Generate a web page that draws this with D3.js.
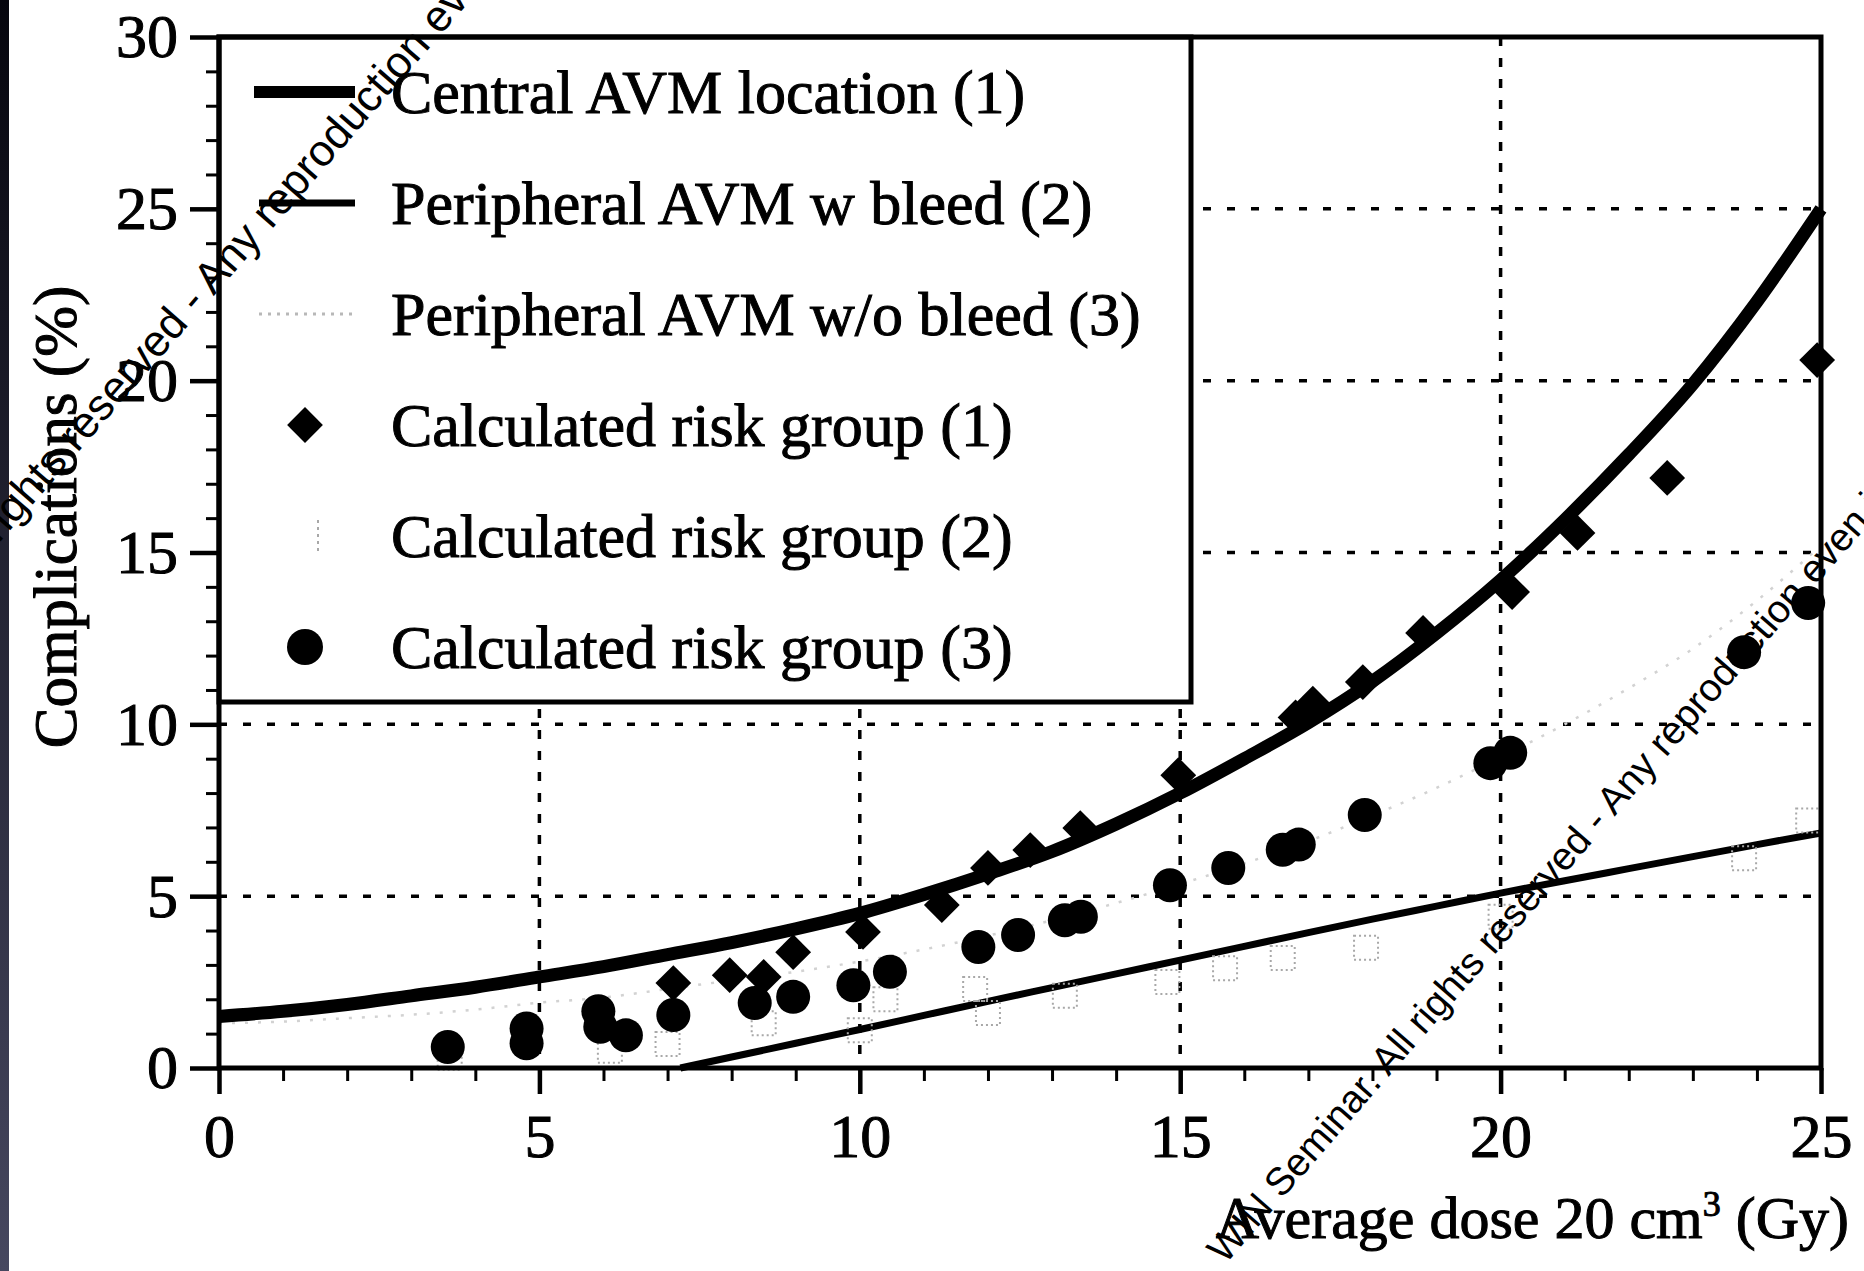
<!DOCTYPE html>
<html>
<head>
<meta charset="utf-8">
<script src="https://cdn.jsdelivr.net/npm/d3@7"></script>
<style>
  html, body { margin: 0; padding: 0; background: #fff; }
  svg { display: block; }
</style>
</head>
<body>
<svg id="chart" width="1864" height="1271"></svg>
<script>
// axes
const xTicks = [0, 5, 10, 15, 20, 25];
const yTicks = [0, 5, 10, 15, 20, 25, 30];

// fitted curves (dose in Gy, complications in %)
const curveDose = [0, 1, 2, 3, 4, 5, 6, 7, 8, 9, 10, 11, 12, 13, 14, 15, 16, 17, 18, 19, 20, 21, 22, 23, 24, 25];
const centralAVM = [1.5, 1.65, 1.85, 2.1, 2.35, 2.65, 2.95, 3.3, 3.65, 4.05, 4.5, 5.05, 5.65, 6.3, 7.1, 8.0, 9.0, 10.05, 11.25, 12.65, 14.2, 15.95, 17.85, 19.9, 22.3, 25.0];
const peripheralNoBleed = [1.3, 1.35, 1.45, 1.55, 1.7, 1.9, 2.05, 2.3, 2.55, 2.8, 3.1, 3.45, 3.85, 4.3, 4.8, 5.35, 5.95, 6.6, 7.35, 8.15, 9.05, 10.0, 11.05, 12.2, 13.6, 15.2];
const bleedDose = [7.2, 8, 9, 10, 11, 12, 13, 14, 15, 16, 17, 18, 19, 20, 21, 22, 23, 24, 25];
const peripheralBleed = [0, 0.32, 0.72, 1.12, 1.53, 1.94, 2.34, 2.74, 3.14, 3.54, 3.94, 4.33, 4.71, 5.09, 5.45, 5.8, 6.15, 6.5, 6.84];

// calculated risk groups: [dose, complications]
const riskGroup1 = [[7.09, 2.47], [7.97, 2.7], [8.5, 2.65], [8.96, 3.37], [10.05, 3.96], [11.28, 4.74], [12.0, 5.82], [12.66, 6.34], [13.44, 6.98], [14.97, 8.52], [16.8, 10.2], [17.07, 10.6], [17.85, 11.23], [18.79, 12.66], [20.18, 13.85], [21.2, 15.57], [22.6, 17.17], [24.94, 20.6]];
const riskGroup2 = [[3.6, 0.3], [6.1, 0.5], [7.0, 0.7], [8.5, 1.3], [10.0, 1.1], [10.4, 2.0], [11.8, 2.3], [12.0, 1.6], [13.2, 2.1], [14.8, 2.5], [15.7, 2.9], [16.6, 3.2], [17.9, 3.5], [20.0, 4.4], [23.8, 6.1], [24.8, 7.2]];
const riskGroup3 = [[3.57, 0.61], [4.8, 1.15], [4.8, 0.72], [5.92, 1.65], [5.95, 1.2], [6.35, 0.95], [7.09, 1.54], [8.36, 1.89], [8.96, 2.07], [9.9, 2.41], [10.47, 2.8], [11.85, 3.52], [12.47, 3.87], [13.2, 4.3], [13.45, 4.4], [14.84, 5.32], [15.75, 5.82], [16.6, 6.35], [16.85, 6.5], [17.88, 7.36], [19.84, 8.87], [20.15, 9.17], [23.8, 12.1], [24.8, 13.53]];

const legendLabels = [
	"Central AVM location (1)",
	"Peripheral AVM w bleed (2)",
	"Peripheral AVM w/o bleed (3)",
	"Calculated risk group (1)",
	"Calculated risk group (2)",
	"Calculated risk group (3)"
];
const watermark = "WIN Seminar. All rights reserved - Any reproduction even in part is prohibited";

const SERIF = "'Liberation Serif', 'Times New Roman', serif";

const svg = d3.select("#chart");
const x = d3.scaleLinear().domain([0, 25]).range([219, 1821]);
const y = d3.scaleLinear().domain([0, 30]).range([1068, 37]);

// dark strip on the left edge of the scan
const grad = svg.append("defs").append("linearGradient")
	.attr("id", "strip").attr("x1", 0).attr("y1", 0).attr("x2", 0).attr("y2", 1);
grad.append("stop").attr("offset", "0%").attr("stop-color", "#06060e");
grad.append("stop").attr("offset", "100%").attr("stop-color", "#46475f");
svg.append("rect").attr("width", 9).attr("height", 1271).attr("fill", "url(#strip)");

// dotted grid
const grid = svg.append("g").attr("stroke", "#000").attr("stroke-width", 3.5);
grid.selectAll("line.h")
	.data(yTicks.filter(d => d > 0 && d < 30))
	.join("line").attr("class", "h")
	.attr("x1", x(0)).attr("x2", x(25))
	.attr("y1", d => y(d)).attr("y2", d => y(d))
	.attr("stroke-dasharray", "8,16");
grid.selectAll("line.v")
	.data(xTicks.filter(d => d > 0 && d < 25))
	.join("line").attr("class", "v")
	.attr("x1", d => x(d)).attr("x2", d => x(d))
	.attr("y1", y(30)).attr("y2", y(0))
	.attr("stroke-dasharray", "9,12");

const line = d3.line()
	.x(d => x(d[0]))
	.y(d => y(d[1]))
	.curve(d3.curveMonotoneX);

// curves
svg.append("path")
	.datum(d3.zip(curveDose, peripheralNoBleed))
	.attr("fill", "none").attr("stroke", "#d2d2d2").attr("stroke-width", 2.5)
	.attr("stroke-dasharray", "3,10")
	.attr("d", line);
svg.append("path")
	.datum(d3.zip(bleedDose, peripheralBleed))
	.attr("fill", "none").attr("stroke", "#000").attr("stroke-width", 7)
	.attr("d", line);
svg.append("path")
	.datum(d3.zip(curveDose, centralAVM))
	.attr("fill", "none").attr("stroke", "#000").attr("stroke-width", 13)
	.attr("d", line);

// markers
const diamond = d3.symbol().type(d3.symbolSquare).size(640);
svg.append("g").selectAll("rect")
	.data(riskGroup2)
	.join("rect")
	.attr("x", d => x(d[0]) - 12).attr("y", d => y(d[1]) - 12)
	.attr("width", 24).attr("height", 24)
	.attr("fill", "none").attr("stroke", "#a8a8a8").attr("stroke-width", 2)
	.attr("stroke-dasharray", "2,3");
svg.append("g").selectAll("path")
	.data(riskGroup1)
	.join("path")
	.attr("d", diamond)
	.attr("transform", d => `translate(${x(d[0])},${y(d[1])}) rotate(45)`)
	.attr("fill", "#000");
svg.append("g").selectAll("circle")
	.data(riskGroup3)
	.join("circle")
	.attr("cx", d => x(d[0])).attr("cy", d => y(d[1]))
	.attr("r", 17).attr("fill", "#000");

// legend
const lgX = x(0), lgY = y(30), lgW = 972, lgH = 665, rowH = 111, row0 = 92;
svg.append("rect")
	.attr("x", lgX).attr("y", lgY).attr("width", lgW).attr("height", lgH)
	.attr("fill", "#fff").attr("stroke", "#000").attr("stroke-width", 5);
const lg = svg.append("g");
const rowY = i => row0 + i * rowH;
lg.append("line").attr("x1", 254).attr("x2", 355).attr("y1", rowY(0)).attr("y2", rowY(0))
	.attr("stroke", "#000").attr("stroke-width", 12);
lg.append("line").attr("x1", 259).attr("x2", 355).attr("y1", rowY(1)).attr("y2", rowY(1))
	.attr("stroke", "#000").attr("stroke-width", 7);
lg.append("line").attr("x1", 259).attr("x2", 355).attr("y1", rowY(2)).attr("y2", rowY(2))
	.attr("stroke", "#b8b8b8").attr("stroke-width", 3).attr("stroke-dasharray", "3,6");
lg.append("path").attr("d", diamond)
	.attr("transform", `translate(305,${rowY(3)}) rotate(45)`).attr("fill", "#000");
lg.append("line").attr("x1", 318).attr("x2", 318).attr("y1", rowY(4) - 16).attr("y2", rowY(4) + 16)
	.attr("stroke", "#a8a8a8").attr("stroke-width", 2).attr("stroke-dasharray", "3,4");
lg.append("circle").attr("cx", 305).attr("cy", rowY(5)).attr("r", 18).attr("fill", "#000");
lg.selectAll("text")
	.data(legendLabels)
	.join("text")
	.attr("x", 391).attr("y", (d, i) => rowY(i) + 21)
	.attr("font-family", SERIF).attr("font-size", 62)
	.attr("fill", "#000").attr("stroke", "#000").attr("stroke-width", 1)
	.text(d => d);

// frame
svg.append("rect")
	.attr("x", x(0)).attr("y", y(30))
	.attr("width", x(25) - x(0)).attr("height", y(0) - y(30))
	.attr("fill", "none").attr("stroke", "#000").attr("stroke-width", 5);

// axes
function styleAxis(g, width) {
	g.select(".domain").remove();
	g.selectAll("line").attr("stroke", "#000").attr("stroke-width", width);
	g.attr("font-family", SERIF).attr("font-size", 62);
	g.selectAll("text").attr("fill", "#000").attr("stroke", "#000").attr("stroke-width", 1);
}
svg.append("g").attr("transform", `translate(0,${y(0)})`)
	.call(d3.axisBottom(x).tickValues(d3.range(0, 26)).tickSize(13).tickFormat(""))
	.call(g => styleAxis(g, 3));
svg.append("g").attr("transform", `translate(0,${y(0)})`)
	.call(d3.axisBottom(x).tickValues(xTicks).tickSize(26).tickPadding(19).tickFormat(d3.format("d")))
	.call(g => styleAxis(g, 4.5));
svg.append("g").attr("transform", `translate(${x(0)},0)`)
	.call(d3.axisLeft(y).tickValues(d3.range(0, 31)).tickSize(13).tickFormat(""))
	.call(g => styleAxis(g, 3));
svg.append("g").attr("transform", `translate(${x(0)},0)`)
	.call(d3.axisLeft(y).tickValues(yTicks).tickSize(29).tickPadding(12).tickFormat(d3.format("d")))
	.call(g => styleAxis(g, 4.5));

// axis titles
const xt = svg.append("text")
	.attr("x", 1849).attr("y", 1238)
	.attr("text-anchor", "end")
	.attr("font-family", SERIF).attr("font-size", 60)
	.attr("fill", "#000").attr("stroke", "#000").attr("stroke-width", 1);
xt.append("tspan").text("Average dose 20 cm");
xt.append("tspan").attr("dy", -22).attr("font-size", 36).text("3");
xt.append("tspan").attr("dy", 22).text(" (Gy)");

svg.append("text")
	.attr("transform", "translate(76,517) rotate(-90)")
	.attr("text-anchor", "middle")
	.attr("font-family", SERIF).attr("font-size", 61)
	.attr("fill", "#000").attr("stroke", "#000").attr("stroke-width", 1)
	.text("Complications (%)");

// diagonal watermark lines over the scan
svg.append("g")
	.attr("font-family", "'Liberation Sans', Arial, sans-serif")
	.attr("fill", "#000")
	.selectAll("text")
	.data([[-226, 802, 44], [1225, 1265, 39]])
	.join("text")
	.attr("font-size", d => d[2])
	.attr("transform", d => `translate(${d[0]},${d[1]}) rotate(-49)`)
	.text(watermark);
</script>
</body>
</html>
